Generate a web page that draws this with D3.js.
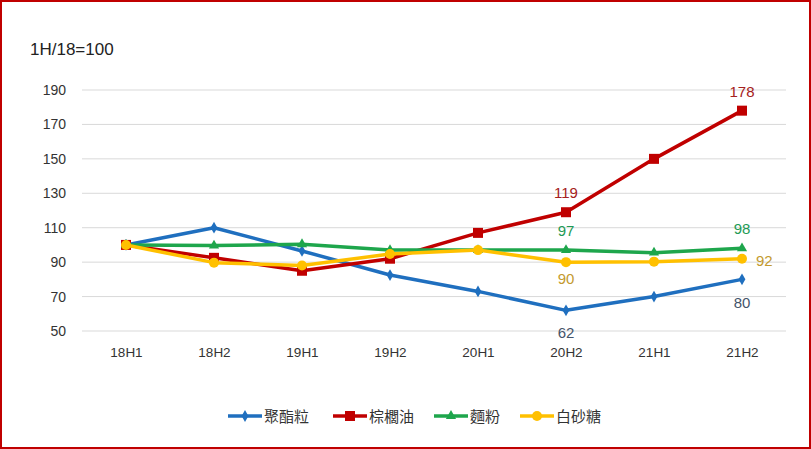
<!DOCTYPE html>
<html>
<head>
<meta charset="utf-8">
<script src="https://cdn.jsdelivr.net/npm/d3@7"></script>
<style>
  body { margin: 0; background: #fff; }
  svg { display: block; font-family: "Liberation Sans", "Noto Sans CJK TC", sans-serif; }
</style>
</head>
<body>
<div id="chart"></div>
<script>
const categories = ["18H1", "18H2", "19H1", "19H2", "20H1", "20H2", "21H1", "21H2"];
const yTicks = [50, 70, 90, 110, 130, 150, 170, 190];
const polyester = [100, 110, 96.5, 82.5, 73, 62, 70, 80];
const palmOil = [100, 92.5, 85, 92, 107, 119, 150, 178];
const flour = [100, 99.6, 100.4, 97, 97, 97, 95.5, 98];
const sugar = [100, 89.7, 88, 94.7, 97, 90, 90.3, 92];

// [index, position, offset]
const series = [
  { name: "聚酯粒", values: polyester, color: "#1f6fbf", labelColor: "#44546a", marker: "diamond", labels: [[5, "below", 28], [7, "below", 29]] },
  { name: "棕櫚油", values: palmOil, color: "#c00000", labelColor: "#a52020", marker: "square", labels: [[5, "above", 14], [7, "above", 14]] },
  { name: "麵粉", values: flour, color: "#1ea64c", labelColor: "#1e9b55", marker: "triangle", labels: [[5, "above", 14], [7, "above", 14]] },
  { name: "白砂糖", values: sugar, color: "#ffc000", labelColor: "#c39a2e", marker: "circle", labels: [[5, "below", 22], [7, "right", 14]] }
];

const width = 811, height = 449;
const svg = d3.select("#chart").append("svg")
  .attr("width", width)
  .attr("height", height);

svg.append("rect")
  .attr("x", 1).attr("y", 1)
  .attr("width", width - 2).attr("height", height - 2)
  .attr("fill", "#fff").attr("stroke", "#c00000").attr("stroke-width", 2);

const x = d3.scalePoint().domain(categories).range([126, 742]);
const y = d3.scaleLinear().domain([50, 190]).range([331, 90]);

// gridlines
svg.append("g").selectAll("line")
  .data(yTicks)
  .join("line")
  .attr("x1", 82).attr("x2", 786)
  .attr("y1", d => y(d)).attr("y2", d => y(d))
  .attr("stroke", "#d9d9d9").attr("stroke-width", 1);

// y axis labels
const yAxis = svg.append("g")
  .attr("transform", "translate(82,0)")
  .call(d3.axisLeft(y).tickValues(yTicks).tickSize(0).tickPadding(16));
yAxis.select(".domain").remove();
yAxis.selectAll("text").attr("font-size", 14).attr("fill", "#333");

// x axis labels
const xAxis = svg.append("g")
  .attr("transform", "translate(0,331)")
  .call(d3.axisBottom(x).tickSize(0).tickPadding(16));
xAxis.select(".domain").remove();
xAxis.selectAll("text").attr("font-size", 13.5).attr("fill", "#333");

svg.append("text")
  .attr("x", 30).attr("y", 55)
  .attr("font-size", 17).attr("fill", "#222")
  .text("1H/18=100");

const line = d3.line().x((d, i) => x(categories[i])).y(d => y(d));

function drawMarker(g, type, cx, cy, color) {
  if (type === "diamond") {
    g.append("path").attr("d", d3.symbol(d3.symbolDiamond, 40)())
      .attr("transform", `translate(${cx},${cy})`).attr("fill", color);
  } else if (type === "square") {
    g.append("rect").attr("x", cx - 5).attr("y", cy - 5).attr("width", 10).attr("height", 10).attr("fill", color);
  } else if (type === "triangle") {
    g.append("path").attr("d", d3.symbol(d3.symbolTriangle, 45)())
      .attr("transform", `translate(${cx},${cy})`).attr("fill", color);
  } else {
    g.append("circle").attr("cx", cx).attr("cy", cy).attr("r", 5).attr("fill", color);
  }
}

series.forEach(s => {
  const g = svg.append("g");
  g.append("path")
    .datum(s.values)
    .attr("d", line)
    .attr("fill", "none")
    .attr("stroke", s.color)
    .attr("stroke-width", 3.5)
    .attr("stroke-linejoin", "round");
  s.values.forEach((v, i) => drawMarker(g, s.marker, x(categories[i]), y(v), s.color));
  s.labels.forEach(([i, pos, off]) => {
    const v = s.values[i];
    const px = x(categories[i]), py = y(v);
    const t = g.append("text")
      .attr("font-size", 15)
      .attr("fill", s.labelColor)
      .text(Math.round(v));
    if (pos === "above") t.attr("x", px).attr("y", py - off).attr("text-anchor", "middle");
    else if (pos === "below") t.attr("x", px).attr("y", py + off).attr("text-anchor", "middle");
    else t.attr("x", px + off).attr("y", py + 7).attr("text-anchor", "start");
  });
});

// legend
const legendX = [228, 333, 434, 520];
series.forEach((s, i) => {
  const g = svg.append("g").attr("transform", `translate(${legendX[i]},416)`);
  g.append("line").attr("x1", 0).attr("x2", 34).attr("y1", 0).attr("y2", 0)
    .attr("stroke", s.color).attr("stroke-width", 3.5);
  drawMarker(g, s.marker, 17, 0, s.color);
  g.append("text").attr("x", 36).attr("y", 6)
    .attr("font-family", "Noto Sans CJK TC").attr("font-size", 15).attr("fill", "#333")
    .text(s.name);
});
</script>
</body>
</html>
